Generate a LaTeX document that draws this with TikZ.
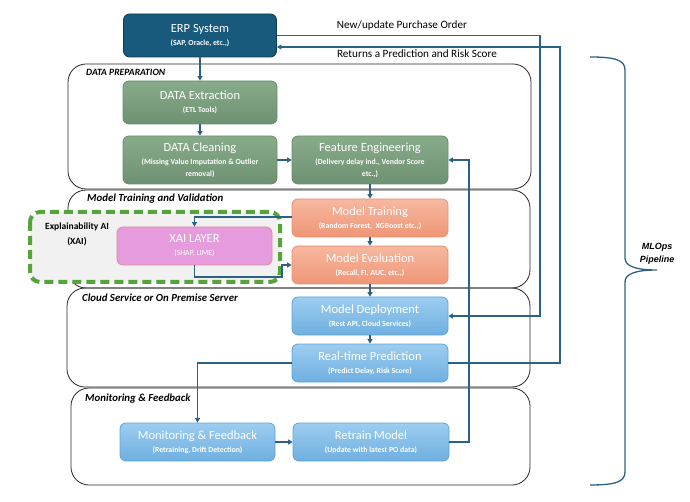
\documentclass[tikz,border=0pt]{standalone}
\usepackage{fontspec}
\setmainfont{Carlito}
\newfontfamily\arialf{Liberation Sans}
\usetikzlibrary{arrows.meta}
\definecolor{erpfill}{HTML}{175A7C}
\definecolor{erpdraw}{HTML}{0F3D55}
\definecolor{gtop}{HTML}{88AB8B}
\definecolor{gbot}{HTML}{6E9171}
\definecolor{gdraw}{HTML}{6A8D6D}
\definecolor{otop}{HTML}{F7B8A0}
\definecolor{obot}{HTML}{EF9677}
\definecolor{odraw}{HTML}{E8906F}
\definecolor{btop}{HTML}{9DCDF0}
\definecolor{bbot}{HTML}{6EAFE0}
\definecolor{bdraw}{HTML}{5FA3D6}
\definecolor{pinkfill}{HTML}{E59BDC}
\definecolor{pinkdraw}{HTML}{E08A9A}
\definecolor{conncol}{HTML}{2B6283}
\definecolor{xaigreen}{HTML}{56A33A}
\definecolor{xaibg}{HTML}{F1F1F1}
\tikzset{
  x=1pt, y=-1pt,
  boxbase/.style={rounded corners=6pt, align=center, text=white, inner sep=2pt, line width=0.8pt},
  erpbox/.style={boxbase, fill=erpfill, draw=erpdraw, minimum width=153pt, minimum height=43pt},
  greenbox/.style={boxbase, top color=gtop, bottom color=gbot, draw=gdraw, minimum width=154pt},
  orangebox/.style={boxbase, top color=otop, bottom color=obot, draw=odraw, minimum width=156pt, minimum height=38pt},
  bluebox/.style={boxbase, top color=btop, bottom color=bbot, draw=bdraw, minimum width=156pt, minimum height=38pt},
  pinkbox/.style={boxbase, fill=pinkfill, draw=pinkdraw, minimum width=155pt, minimum height=38pt},
  section/.style={draw=black!85, line width=0.8pt, rounded corners=18pt},
  seclabel/.style={anchor=west, font=\bfseries\itshape\fontsize{10.8}{12}\selectfont, inner sep=0pt},
  conn/.style={draw=conncol, line width=1.3pt, -{Triangle[length=4.5pt,width=5pt]}},
  toplabel/.style={font=\fontsize{11.2}{13}\selectfont, inner sep=0pt}
}
\newcommand{\btitle}[1]{{\fontsize{12.5}{14.5}\selectfont #1}}
\newcommand{\bsub}[1]{{\fontsize{7.8}{9}\selectfont\bfseries #1}}
\begin{document}
\begin{tikzpicture}
\useasboundingbox (0,0) rectangle (690,502);
% sections
\draw[section] (68,64) rectangle (531,189);
\draw[section] (68,190) rectangle (530,288);
\draw[section] (67,288) rectangle (530,387);
\draw[section] (71,388) rectangle (530,485);
\node[seclabel, font=\bfseries\itshape\fontsize{9.6}{11}\selectfont] (l1) at (86,72) {DATA PREPARATION};
\node[seclabel] (l2) at (87,199) {Model Training and Validation};
\node[seclabel] (l3) at (82,298) {Cloud Service or On Premise Server};
\node[seclabel] (l4) at (85,399) {Monitoring \& Feedback};
% XAI dashed region
\draw[draw=xaigreen, fill=xaibg, line width=4pt, dash pattern=on 9pt off 5pt, rounded corners=10pt] (30,212) rectangle (280,282);
\node[align=center, font=\bfseries\fontsize{9.5}{15}\selectfont, inner sep=0pt] (xail) at (77,234.5) {Explainability AI\\(XAI)};
% boxes
\node[erpbox] (erp) at (200,35.5) {\btitle{ERP System}\\[1pt]\bsub{(SAP, Oracle, etc.,)}};
\node[greenbox, minimum height=43pt] (ext) at (200,102.5) {\btitle{DATA Extraction}\\[1pt]\bsub{(ETL Tools)}};
\node[greenbox, minimum height=48pt] (clean) at (200,160) {\btitle{DATA Cleaning}\\[1pt]\bsub{(Missing Value Imputation \& Outlier}\\\bsub{removal)}};
\node[greenbox, minimum width=156pt, minimum height=48pt] (feat) at (370,160) {\btitle{Feature Engineering}\\[1pt]\bsub{(Delivery delay ind., Vendor Score}\\\bsub{etc.,)}};
\node[orangebox] (train) at (370,218) {\btitle{Model Training}\\[1pt]\bsub{(Random Forest,\ \ XGBoost etc.,)}};
\node[orangebox] (eval) at (370,265) {\btitle{Model Evaluation}\\[1pt]\bsub{(Recall, FI, AUC, etc.,)}};
\node[bluebox] (dep) at (370,316) {\btitle{Model Deployment}\\[1pt]\bsub{(Rest API, Cloud Services)}};
\node[bluebox] (rt) at (370,363) {\btitle{Real-time Prediction}\\[1pt]\bsub{(Predict Delay, Risk Score)}};
\node[bluebox, minimum width=155pt] (mon) at (197.5,442) {\btitle{Monitoring \& Feedback}\\[1pt]\bsub{(Retraining, Drift Detection)}};
\node[bluebox] (ret) at (371,442) {\btitle{Retrain Model}\\[1pt]\bsub{(Update with latest PO data)}};
\node[pinkbox] (xai) at (194.5,246) {\btitle{XAI LAYER}\\[1pt]\bsub{\mdseries (SHAP, LIME)}};
% helper coordinates
\coordinate (k1) at (282,277);
\coordinate (k2) at (469,300);
\coordinate (k3) at (540,100);
\coordinate (k4) at (560,100);
\coordinate (erpin) at ([yshift=-11.5pt]erp.east);
% connectors
\draw[conn] (erp) -- (ext);
\draw[conn] (ext) -- (clean);
\draw[conn] (clean) -- (feat);
\draw[conn] (feat) -- (train);
\draw[conn] (train) -- (eval);
\draw[conn] (eval) -- (dep);
\draw[conn] (dep) -- (rt);
\draw[conn] ([yshift=1pt]train.west) -| (xai.north);
\draw[conn] (xai.south) |- (k1) |- (eval.west);
\draw[conn] (rt.west) -| (mon.north);
\draw[conn] (mon) -- (ret);
\draw[conn] (ret.east) -| (k2) |- (feat.east);
\draw[conn] (erp.east) -| (k3) |- (dep.east);
\draw[conn] (rt.east) -| (k4) |- (erpin);
\node[toplabel] (lab1) at (402,26) {New/update Purchase Order};
\node[toplabel] (lab2) at (417,54) {Returns a Prediction and Risk Score};
% brace
\draw[draw=conncol, line width=1.3pt] (590,57) .. controls (615,57) and (625,60) .. (625,70) -- (625,258) .. controls (625,266) and (635,270) .. (657,270) .. controls (635,270) and (625,274) .. (625,282) -- (625,472) .. controls (625,482) and (615,485) .. (590,485);
\node[align=center, font=\arialf\bfseries\itshape\fontsize{9}{13.5}\selectfont, inner sep=0pt] (mlops) at (657,254) {MLOps\\Pipeline};
\end{tikzpicture}
\end{document}
